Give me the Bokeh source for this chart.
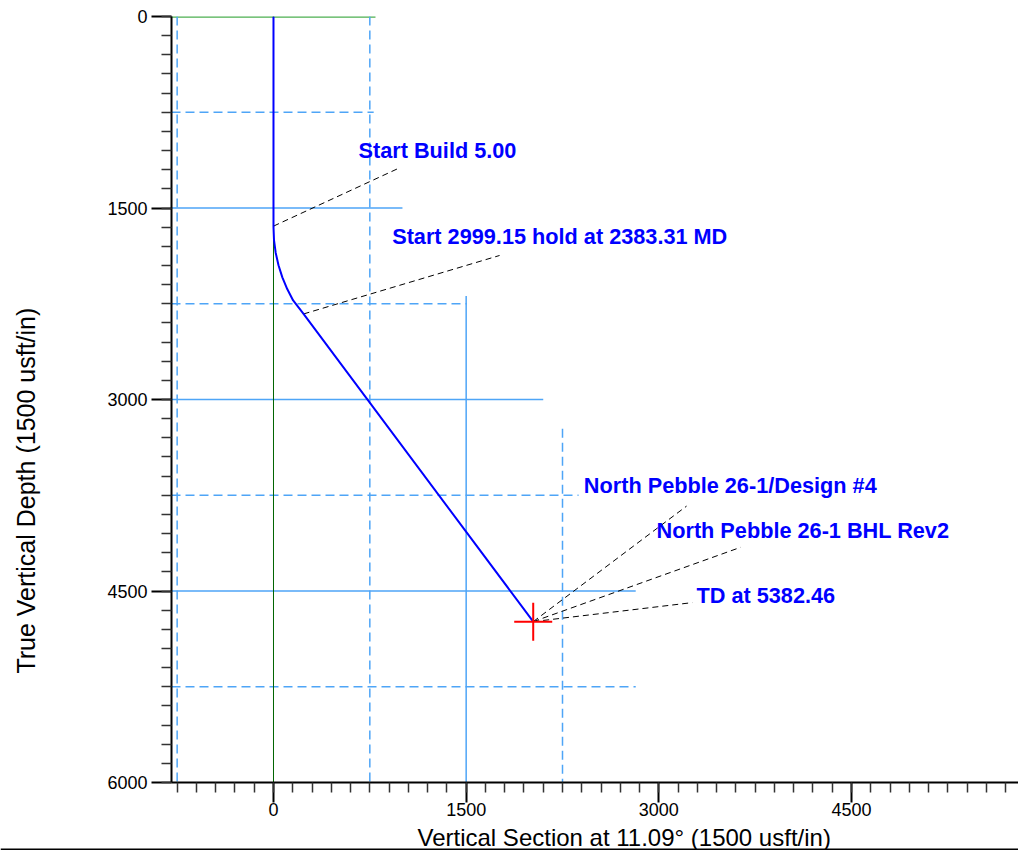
from bokeh.plotting import figure
from bokeh.models import Range1d, SingleIntervalTicker, ColumnDataSource
from bokeh.layouts import column, row
from bokeh.embed import file_html
from bokeh.resources import INLINE
from bokeh.core.properties import value
import math

# ---- data ----
# well path (vertical section, true vertical depth)
path_vs = [0, 0, 4, 17, 39, 69, 107, 153, 234, 2022]
path_tvd = [0, 1648, 1751, 1850, 1948, 2043, 2135, 2224, 2330, 4740]

# target / TD
target_vs = [2022]
target_tvd = [4740]

# horizontal reference lines: depth, right end, style
hline_y = [0, 750, 1500, 2250, 3000, 3750, 4500, 5250]
hline_x_end = [794, 780, 1004, 1505, 2100, 2375, 2820, 2820]
hline_kind = ["green", "dash", "solid", "dash", "solid", "dash", "solid", "dash"]

# vertical reference lines: section, top depth, style
vline_x = [-750, 0, 750, 1500, 2250]
vline_y_top = [0, 0, 0, 2190, 3230]
vline_kind = ["dash", "dkgreen", "dash", "solid", "dash"]

# annotations
ann_text = ["Start Build 5.00", "Start 2999.15 hold at 2383.31 MD",
            "North Pebble 26-1/Design #4", "North Pebble 26-1 BHL Rev2",
            "TD at 5382.46"]
ann_x = [662, 924, 2416, 2982, 3293]
ann_y = [1114, 1788, 3738, 4085, 4599]
lead_x0 = [0, 234, 2022, 2022, 2022]
lead_y0 = [1642, 2330, 4740, 4740, 4740]
lead_x1 = [989, 1760, 3216, 3636, 3260]
lead_y1 = [1182, 1872, 3835, 4158, 4591]

x_title = "Vertical Section at 11.09\u00b0 (1500 usft/in)"
y_title = "True Vertical Depth (1500 usft/in)"

x_start, x_end = -794, 5800
y_bottom, y_top = 6000, 0
tick_step = 1500

FONT = "Liberation Sans"
LBLUE = "#4ea5f7"

TOTAL_W = 1018
LEFT_W = 45
MAIN_H = 823
BOTTOM_H = 27

# ---- main plot ----
p = figure(width=TOTAL_W - LEFT_W, height=MAIN_H, output_backend="svg", toolbar_location=None,
           title=None,
           x_range=Range1d(x_start, x_end), y_range=Range1d(y_bottom, y_top),
           min_border_left=171 - LEFT_W, min_border_right=0, min_border_top=16,
           min_border_bottom=MAIN_H - 16 - 766)
p.outline_line_color = None
p.xgrid.visible = False
p.ygrid.visible = False

for ax in (p.xaxis[0], p.yaxis[0]):
    ax.ticker = SingleIntervalTicker(interval=tick_step, num_minor_ticks=10)
    ax.axis_line_color = "black"
    ax.axis_line_width = 2
    ax.major_tick_line_color = "black"
    ax.major_tick_line_width = 2
    ax.major_tick_out = 20
    ax.major_tick_in = 0
    ax.minor_tick_line_color = "#333333"
    ax.minor_tick_line_width = 1.5
    ax.minor_tick_out = 10
    ax.minor_tick_in = 0
    ax.major_label_text_font = FONT
    ax.major_label_text_font_size = "18px"
    ax.major_label_text_color = "black"
p.xaxis[0].major_label_standoff = 0
p.yaxis[0].major_label_standoff = 4

# horizontal grid-like lines
for y, xe, k in zip(hline_y, hline_x_end, hline_kind):
    if k == "green":
        p.segment(x0=[x_start], y0=[y], x1=[xe], y1=[y], line_color="#4caf50", line_width=2.5)
    elif k == "dash":
        p.segment(x0=[x_start], y0=[y], x1=[xe], y1=[y], line_color=LBLUE, line_width=1.5,
                  line_dash="9 5")
    else:
        p.segment(x0=[x_start], y0=[y], x1=[xe], y1=[y], line_color=LBLUE, line_width=1.5)

for x, yt, k in zip(vline_x, vline_y_top, vline_kind):
    if k == "dkgreen":
        p.segment(x0=[x], y0=[yt], x1=[x], y1=[y_bottom], line_color="#006400", line_width=1)
    elif k == "dash":
        p.segment(x0=[x], y0=[yt], x1=[x], y1=[y_bottom], line_color=LBLUE, line_width=1.5,
                  line_dash="9 5")
    else:
        p.segment(x0=[x], y0=[yt], x1=[x], y1=[y_bottom], line_color=LBLUE, line_width=1.5)

# leader lines
p.segment(x0=lead_x0, y0=lead_y0, x1=lead_x1, y1=lead_y1, line_color="black",
          line_width=1, line_dash="6 4")

# well path
p.line(path_vs, path_tvd, line_color="#0000ff", line_width=2)

# target cross
p.scatter(target_vs, target_tvd, marker="cross", size=38, line_color="#ff0000", line_width=2)

# annotation texts
src = ColumnDataSource(dict(x=ann_x, y=ann_y, t=ann_text))
p.text(x="x", y="y", text="t", source=src, text_font=value(FONT), text_font_style="bold",
       text_font_size="21.7px", text_color="#0000ff", text_baseline="alphabetic",
       text_align="left", y_offset=-8)

# ---- left strip: y axis title ----
lf = figure(width=LEFT_W, height=MAIN_H, output_backend="svg", toolbar_location=None,
            title=None, x_axis_type=None, y_axis_type=None,
            x_range=Range1d(0, LEFT_W), y_range=Range1d(MAIN_H, 0),
            min_border=0)
lf.outline_line_color = None
lf.xgrid.visible = False
lf.ygrid.visible = False
lf.text(x=[25], y=[706], text=[y_title], text_font=value(FONT), text_font_size="25px",
        text_color="black", text_align="left", text_baseline="alphabetic",
        angle=math.pi / 2)

# ---- bottom strip: x axis title and base rule ----
bf = figure(width=TOTAL_W, height=BOTTOM_H, output_backend="svg", toolbar_location=None,
            title=None, x_axis_type=None, y_axis_type=None,
            x_range=Range1d(0, TOTAL_W), y_range=Range1d(BOTTOM_H, 0),
            min_border=0)
bf.outline_line_color = None
bf.xgrid.visible = False
bf.ygrid.visible = False
bf.text(x=[417], y=[14], text=[x_title], text_font=value(FONT), text_font_size="24px",
        text_color="black", text_align="left", text_baseline="alphabetic")
bf.segment(x0=[0], y0=[26], x1=[TOTAL_W], y1=[26], line_color="black", line_width=2)

layout = column(row(lf, p, spacing=0), bf, spacing=0)

open("out.html", "w").write(file_html(layout, INLINE))
